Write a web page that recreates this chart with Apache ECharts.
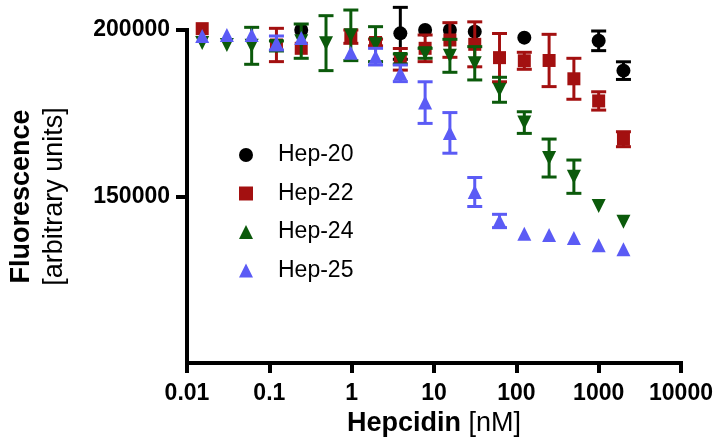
<!DOCTYPE html>
<html><head><meta charset="utf-8">
<script src="https://cdn.jsdelivr.net/npm/echarts@6/dist/echarts.min.js"></script>
<style>html,body{margin:0;padding:0;background:#fff}#c{width:721px;height:448px}</style>
</head><body><div id="c"></div>
<script>
// ---- data ----
const concentrations = [0.0153, 0.0305, 0.061, 0.122, 0.244, 0.488, 0.977, 1.95, 3.9, 7.8, 15.6, 31.25, 62.5, 125, 250, 500, 1000, 2000];
const seriesNames = ['Hep-20', 'Hep-22', 'Hep-24', 'Hep-25'];
const hep20    = [null, null, null, null, 200000, null, null, null, 199000, 200000, 200000, 199500, null, 197700, null, null, 196750, 187800];
const hep20Err = [0, 0, 0, 0, 0, 0, 0, 0, 7800, 0, 0, 0, 0, 0, 0, 0, 2950, 2650];
const hep22    = [200400, null, null, 195500, 194500, null, 198000, 196250, 191200, 194500, 197000, 195700, 191700, 190750, 190850, 185350, 178700, 167200];
const hep22Err = [0, 0, 0, 5000, 0, 0, 2000, 1000, 3250, 4000, 5200, 6750, 7250, 2550, 7850, 6150, 2750, 2250];
const hep24    = [196100, 195500, 195250, 195200, 196650, 196050, 198400, 195750, 191300, 193000, 192250, 190000, 182050, 172200, 161550, 155950, 147150, 142450];
const hep24Err = [0, 0, 5550, 1500, 5150, 8250, 7600, 5250, 1500, 1500, 4950, 5000, 3750, 3250, 5700, 5000, 0, 0];
const hep25    = [198200, 198500, 198500, 196100, 197600, null, 193200, 192000, 187000, 178200, 169100, 151350, 142650, 138800, 138450, 137550, 135350, 134150];
const hep25Err = [0, 0, 0, 2100, 0, 0, 0, 2500, 2500, 6250, 6100, 4350, 2000, 0, 0, 0, 0, 0];
const xTickLabels = ['0.01', '0.1', '1', '10', '100', '1000', '10000'];
const yTickValues = [150000, 200000];
const yTickLabels = ['150000', '200000'];

// ---- styles ----
const F = 'Liberation Sans, Arial, sans-serif';
const colors = ['#000000', '#a31010', '#0b5a0b', '#5b5bf5'];
const symbols = ['circle', 'rect', 'triangle', 'triangle'];
const rotations = [0, 0, 180, 0];
const allVals = [hep20, hep22, hep24, hep25];
const allErrs = [hep20Err, hep22Err, hep24Err, hep25Err];

function errSeries(name, vals, errs, color, z) {
  const data = [];
  vals.forEach((v, i) => { if (v != null && errs[i] > 0) data.push([concentrations[i], v, errs[i]]); });
  return {
    type: 'custom', name: name + ' err', z: z, clip: false, silent: true,
    data: data, encode: { x: 0, y: 1 },
    renderItem: function (params, api) {
      const x = api.value(0), y = api.value(1), e = api.value(2);
      const top = api.coord([x, y + e]);
      const bot = api.coord([x, y - e]);
      const cw = 7.5;
      const style = { stroke: color, lineWidth: 3, fill: null };
      return { type: 'group', children: [
        { type: 'line', shape: { x1: top[0], y1: top[1], x2: bot[0], y2: bot[1] }, style: style },
        { type: 'line', shape: { x1: top[0] - cw, y1: top[1], x2: top[0] + cw, y2: top[1] }, style: style },
        { type: 'line', shape: { x1: bot[0] - cw, y1: bot[1], x2: bot[0] + cw, y2: bot[1] }, style: style }
      ] };
    }
  };
}

const series = [];
seriesNames.forEach((name, k) => {
  series.push(errSeries(name, allVals[k], allErrs[k], colors[k], 2 + 2 * k));
  const pts = [];
  allVals[k].forEach((v, i) => { if (v != null) pts.push([concentrations[i], v]); });
  series.push({
    type: 'scatter', name: name, data: pts, z: 3 + 2 * k, clip: false,
    symbol: symbols[k], symbolRotate: rotations[k], symbolSize: k === 1 ? 13 : 14,
    itemStyle: { color: colors[k], opacity: 1 },
    emphasis: { disabled: true }
  });
});

const axisLineStyle = { color: '#000', width: 4, cap: 'square' };
const chart = echarts.init(document.getElementById('c'), null, { renderer: 'canvas' });
chart.setOption({
  animation: false,
  backgroundColor: '#fff',
  grid: { left: 182, top: 30, width: 499, height: 333, containLabel: false },
  legend: {
    data: seriesNames, orient: 'vertical', left: 234, top: 137,
    itemWidth: 14, itemHeight: 14, itemGap: 12.5, symbolRotate: 'inherit',
    textStyle: { fontSize: 23, fontFamily: F, color: '#000', lineHeight: 26, padding: [0, 0, 0, 20] },
    selectedMode: false
  },
  xAxis: {
    type: 'log', logBase: 10, min: 0.01, max: 10000, splitNumber: 6,
    axisLine: { show: true, lineStyle: axisLineStyle },
    axisTick: { show: true, length: 10, lineStyle: { color: '#000', width: 4 } },
    minorTick: { show: false }, splitLine: { show: false },
    axisLabel: {
      formatter: function (v) { return xTickLabels[Math.round(Math.log10(v)) + 2]; },
      margin: 19, fontSize: 23, fontWeight: 'bold', fontFamily: F, color: '#000'
    },
    name: '{b|Hepcidin}{r| [nM]}', nameLocation: 'middle', nameGap: 45,
    nameTextStyle: { rich: {
      b: { fontSize: 27, fontWeight: 'bold', fontFamily: F, color: '#000' },
      r: { fontSize: 27, fontFamily: F, color: '#000' }
    } }
  },
  yAxis: {
    type: 'value', min: 100000, max: 200000, interval: 50000,
    axisLine: { show: true, lineStyle: axisLineStyle },
    axisTick: { show: true, length: 11, customValues: yTickValues, lineStyle: { color: '#000', width: 4 } },
    splitLine: { show: false },
    axisLabel: {
      customValues: yTickValues,
      formatter: function (v) { const i = yTickValues.indexOf(v); return i < 0 ? '' : yTickLabels[i]; },
      margin: 17, fontSize: 23, fontWeight: 'bold', fontFamily: F, color: '#000'
    },
    name: '{a|Fluorescence}\n{b|[arbitrary units]}', nameLocation: 'middle', nameRotate: 90, nameGap: 116,
    nameTextStyle: { align: 'center', rich: {
      a: { fontSize: 27, fontWeight: 'bold', fontFamily: F, color: '#000', lineHeight: 33, align: 'center' },
      b: { fontSize: 27, fontFamily: F, color: '#000', lineHeight: 33, align: 'center' }
    } }
  },
  series: series
});
</script></body></html>
